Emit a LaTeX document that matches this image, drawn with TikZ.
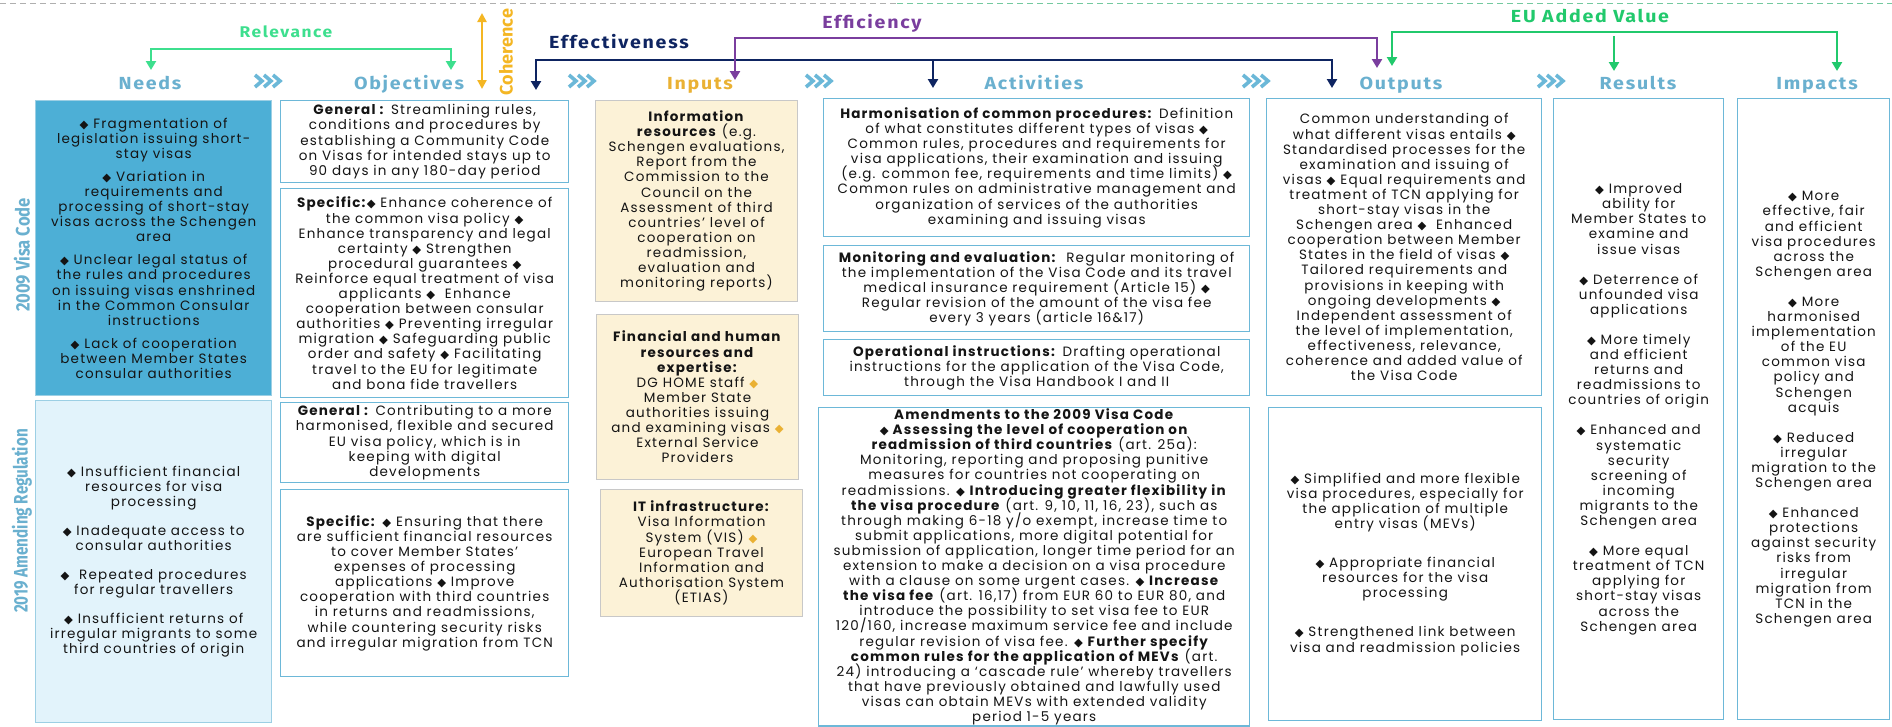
\documentclass[tikz,border=0pt]{standalone}
\usepackage{fontspec}
\setmainfont{Poppins}[LetterSpace=9]
\newfontfamily\hdrfont{Fira Sans}[FakeStretch=1.12, LetterSpace=10]
\newfontfamily\cohfont{Fira Sans}
\newfontfamily\vfont{Fira Sans}[FakeStretch=0.78]
\newfontfamily\vfontb{Fira Sans}[FakeStretch=0.85]
\newfontfamily\djv{DejaVu Sans}
\usetikzlibrary{arrows.meta}
\definecolor{hblue}{HTML}{6AB0CF}
\definecolor{bordblue}{HTML}{6DB8D8}
\definecolor{needdark}{HTML}{4DAFD6}
\definecolor{needbord}{HTML}{9CCFE4}
\definecolor{needlight}{HTML}{E2F3FB}
\definecolor{inpfill}{HTML}{FCF2D7}
\definecolor{inpbord}{HTML}{C8C8C8}
\definecolor{gold}{HTML}{EAB133}
\definecolor{cohcol}{HTML}{F4B623}
\definecolor{relgreen}{HTML}{3DDF8E}
\definecolor{eugreen}{HTML}{21C96C}
\definecolor{navy}{HTML}{0E2461}
\definecolor{purp}{HTML}{7A3E9E}
\definecolor{txt}{HTML}{141414}
\definecolor{chevcol}{HTML}{6BB8D8}
\definecolor{dashgray}{HTML}{AFAFAF}
\definecolor{dashgreen}{HTML}{74C9A0}
\newcommand\dmd{{\djv\fontsize{11.5}{11.5}\selectfont ◆}}
\newcommand\odmd{{\color{gold}\djv\fontsize{11.5}{11.5}\selectfont ◆}}
\newcommand\bdyfnt{\fontsize{13.5}{15.1}\selectfont\lineskiplimit=-100pt\lineskip=0pt}
\tikzset{btip/.tip={Triangle[width=10pt,length=9pt]},
  ctip/.tip={Triangle[width=9pt,length=9pt]}}
\begin{document}
\begin{tikzpicture}[x=1pt,y=-1pt,
  hdr/.style={font=\hdrfont\bfseries\fontsize{17.5}{17.5}\selectfont, text=hblue, inner sep=0pt, anchor=base},
  crit/.style={font=\hdrfont\bfseries\fontsize{17.5}{17.5}\selectfont, inner sep=0pt},
  vlab/.style={font=\vfont\bfseries\fontsize{19.5}{19.5}\selectfont, text=hblue, inner sep=0pt, rotate=90},
  box/.style={draw=bordblue, line width=1.4pt, fill=white, inner sep=1pt, align=center, anchor=north west, text=txt, font=\bdyfnt},
  inbox/.style={box, draw=inpbord, fill=inpfill, line width=1pt},
  ndark/.style={box, draw=needbord, fill=needdark},
  nlight/.style={box, draw=needbord, fill=needlight},
  brk/.style={line width=2.6pt, line join=miter},
  chevst/.style={draw=chevcol, line width=3.6pt, line join=miter},
  chevs/.pic={\foreach \dx in {-9,0,9} {\draw[chevst] (\dx-4,-6) -- (\dx+3,0) -- (\dx-4,6);}}
]
\useasboundingbox (0,0) rectangle (1892,726);
\fill[white] (0,0) rectangle (1892,726);
% top dashed line
\draw[dashgray, line width=1pt, dash pattern=on 6pt off 4pt] (0,3) -- (897,3);
\draw[dashgreen, line width=1pt, dash pattern=on 6pt off 4pt] (897,3) -- (1892,3);

% headers
\node[hdr] (hNeeds) at (150,89) {Needs};
\node[hdr] (hObj) at (409,89) {Objectives};
\node[hdr, text=gold] (hInp) at (700,89) {Inputs};
\node[hdr] (hAct) at (1034,89) {Activities};
\node[hdr] (hOut) at (1401,89) {Outputs};
\node[hdr] (hRes) at (1638,89) {Results};
\node[hdr] (hImp) at (1817,89) {Impacts};
\pic at (268,81) {chevs};
\pic at (582,81) {chevs};
\pic at (819,81) {chevs};
\pic at (1256,81) {chevs};
\pic at (1551,81) {chevs};

% criteria labels
\node[crit, text=relgreen, font=\hdrfont\bfseries\fontsize{15.5}{15.5}\selectfont] (lRel) at (286,32) {Relevance};
\node[crit, text=navy] (lEff) at (619,42) {Effectiveness};
\node[crit, text=purp] (lEffi) at (872,23) {Efficiency};
\node[crit, text=eugreen] (lEU) at (1590,16) {EU Added Value};
\node[crit, text=cohcol, rotate=90, font=\cohfont\bfseries\fontsize{18}{18}\selectfont] (lCoh) at (506,52) {Coherence};

% Relevance bracket
\coordinate (relA) at (151,70); \coordinate (relB) at (151,49);
\coordinate (relC) at (451,49); \coordinate (relD) at (451,70);
\draw[brk, relgreen, {btip}-{btip}] (relA) -- (relB) -- (relC) -- (relD);
% Coherence
\coordinate (cohT) at (482,13); \coordinate (cohB) at (482,89);
\draw[cohcol, line width=2.4pt, {ctip}-{ctip}] (cohT) -- (cohB);
% Effectiveness bracket
\coordinate (effA) at (536,90); \coordinate (effB) at (536,60);
\coordinate (effC) at (1332,60); \coordinate (effD) at (1332,88);
\coordinate (effM) at (933,60); \coordinate (effMt) at (933,88);
\draw[brk, navy, {btip}-{btip}] (effA) -- (effB) -- (effC) -- (effD);
\draw[brk, navy, -{btip}] (effM) -- (effMt);
% Efficiency bracket
\coordinate (efiA) at (735,80); \coordinate (efiB) at (735,38);
\coordinate (efiC) at (1377,38); \coordinate (efiD) at (1377,68);
\draw[brk, purp, {btip}-{btip}] (efiA) -- (efiB) -- (efiC) -- (efiD);
% EU added value bracket
\coordinate (euA) at (1392,66); \coordinate (euB) at (1392,32);
\coordinate (euC) at (1837,32); \coordinate (euD) at (1837,71);
\coordinate (euM) at (1614,36); \coordinate (euMt) at (1614,71);
\draw[brk, eugreen, {btip}-{btip}] (euA) -- (euB) -- (euC) -- (euD);
\draw[brk, eugreen, -{btip}] (euM) -- (euMt);

% vertical labels
\node[vlab, font=\vfontb\bfseries\fontsize{19.5}{19.5}\selectfont] (v2009) at (22,255) {2009 Visa Code};
\node[vlab] (v2019) at (22,521) {2019 Amending Regulation};

% Needs
\node[ndark, minimum width=236pt, minimum height=295pt] (nd) at (35,100) {%
\dmd{} Fragmentation of\\ legislation issuing short-\\ stay visas\\[8pt]
\dmd{} Variation in\\ requirements and\\ processing of short-stay\\ visas across the Schengen\\ area\\[8pt]
\dmd{} Unclear legal status of\\ the rules and procedures\\ on issuing visas enshrined\\ in the Common Consular\\ instructions\\[8pt]
\dmd{} Lack of cooperation\\ between Member States\\ consular authorities};
\node[nlight, minimum width=236pt, minimum height=322pt] (nl) at (35,400) {%
\dmd{} Insufficient financial\\ resources for visa\\ processing\\[14pt]
\dmd{} Inadequate access to\\ consular authorities\\[14pt]
\dmd{}\ \ Repeated procedures\\ for regular travellers\\[14pt]
\dmd{} Insufficient returns of\\ irregular migrants to some\\ third countries of origin};

% Objectives
\node[box, minimum width=288pt, minimum height=82pt] (o1) at (280,100) {%
\textbf{General :} Streamlining rules,\\ conditions and procedures by\\ establishing a Community Code\\ on Visas for intended stays up to\\ 90 days in any 180-day period};
\node[box, minimum width=288pt, minimum height=209pt] (o2) at (280,188) {%
\textbf{Specific:}\dmd{} Enhance coherence of\\ the common visa policy \dmd\\ Enhance transparency and legal\\ certainty \dmd{} Strengthen\\ procedural guarantees \dmd\\ Reinforce equal treatment of visa\\ applicants \dmd{}\ \ Enhance\\ cooperation between consular\\ authorities \dmd{} Preventing irregular\\ migration \dmd{} Safeguarding public\\ order and safety \dmd{} Facilitating\\ travel to the EU for legitimate\\ and bona fide travellers};
\node[box, minimum width=288pt, minimum height=80pt] (o3) at (280,402) {%
\textbf{General :} Contributing to a more\\ harmonised, flexible and secured\\ EU visa policy, which is in\\ keeping with digital\\ developments};
\node[box, minimum width=288pt, minimum height=187pt] (o4) at (280,489) {%
\textbf{Specific:} \dmd{} Ensuring that there\\ are sufficient financial resources\\ to cover Member States’\\ expenses of processing\\ applications \dmd{} Improve\\ cooperation with third countries\\ in returns and readmissions,\\ while countering security risks\\ and irregular migration from TCN};

% Inputs
\node[inbox, minimum width=202pt, minimum height=201pt] (i1) at (595,100) {%
\textbf{Information}\\ \textbf{resources} (e.g.\\ Schengen evaluations,\\ Report from the\\ Commission to the\\ Council on the\\ Assessment of third\\ countries’ level of\\ cooperation on\\ readmission,\\ evaluation and\\ monitoring reports)};
\node[inbox, minimum width=202pt, minimum height=165pt] (i2) at (596,314) {%
\textbf{Financial and human}\\ \textbf{resources and}\\ \textbf{expertise:}\\ DG HOME staff \odmd\\ Member State\\ authorities issuing\\ and examining visas \odmd\\ External Service\\ Providers};
\node[inbox, minimum width=202pt, minimum height=127pt] (i3) at (600,489) {%
\textbf{IT infrastructure:}\\ Visa Information\\ System (VIS) \odmd\\ European Travel\\ Information and\\ Authorisation System\\ (ETIAS)};

% Activities
\node[box, minimum width=426pt, minimum height=138pt] (a1) at (823,98) {%
\textbf{Harmonisation of common procedures:} Definition\\ of what constitutes different types of visas \dmd\\ Common rules, procedures and requirements for\\ visa applications, their examination and issuing\\ (e.g. common fee, requirements and time limits) \dmd\\ Common rules on administrative management and\\ organization of services of the authorities\\ examining and issuing visas};
\node[box, minimum width=426pt, minimum height=86pt] (a2) at (823,245) {%
\textbf{Monitoring and evaluation:}\ \ Regular monitoring of\\ the implementation of the Visa Code and its travel\\ medical insurance requirement (Article 15) \dmd\\ Regular revision of the amount of the visa fee\\ every 3 years (article 16\&17)};
\node[box, minimum width=426pt, minimum height=56pt] (a3) at (823,339) {%
\textbf{Operational instructions:} Drafting operational\\ instructions for the application of the Visa Code,\\ through the Visa Handbook I and II};
\node[box, minimum width=431pt, minimum height=318pt] (a4) at (818,407) {%
\textbf{Amendments to the 2009 Visa Code}\\
\textbf{\dmd{} Assessing the level of cooperation on}\\
\textbf{readmission of third countries} (art. 25a):\\
Monitoring, reporting and proposing punitive\\
measures for countries not cooperating on\\
readmissions. \dmd{} \textbf{Introducing greater flexibility in}\\
\textbf{the visa procedure} (art. 9, 10, 11, 16, 23), such as\\
through making 6-18 y/o exempt, increase time to\\
submit applications, more digital potential for\\
submission of application, longer time period for an\\
extension to make a decision on a visa procedure\\
with a clause on some urgent cases. \dmd{} \textbf{Increase}\\
\textbf{the visa fee} (art. 16,17) from EUR 60 to EUR 80, and\\
introduce the possibility to set visa fee to EUR\\
120/160, increase maximum service fee and include\\
regular revision of visa fee. \dmd{} \textbf{Further specify}\\
\textbf{common rules for the application of MEVs} (art.\\
24) introducing a ‘cascade rule’ whereby travellers\\
that have previously obtained and lawfully used\\
visas can obtain MEVs with extended validity\\
period 1-5 years};

% Outputs
\node[box, minimum width=275pt, minimum height=297pt] (u1) at (1266,98) {%
Common understanding of\\ what different visas entails \dmd\\ Standardised processes for the\\ examination and issuing of\\ visas \dmd{} Equal requirements and\\ treatment of TCN applying for\\ short-stay visas in the\\ Schengen area \dmd{}\ \ Enhanced\\ cooperation between Member\\ States in the field of visas \dmd\\ Tailored requirements and\\ provisions in keeping with\\ ongoing developments \dmd\\ Independent assessment of\\ the level of implementation,\\ effectiveness, relevance,\\ coherence and added value of\\ the Visa Code};
\node[box, minimum width=273pt, minimum height=313pt] (u2) at (1268,407) {%
\dmd{} Simplified and more flexible\\ visa procedures, especially for\\ the application of multiple\\ entry visas (MEVs)\\[24pt]
\dmd{} Appropriate financial\\ resources for the visa\\ processing\\[24pt]
\dmd{} Strengthened link between\\ visa and readmission policies};

% Results
\node[box, minimum width=170pt, minimum height=621pt] (r1) at (1553,98) {%
\dmd{} Improved\\ ability for\\ Member States to\\ examine and\\ issue visas\\[15pt]
\dmd{} Deterrence of\\ unfounded visa\\ applications\\[15pt]
\dmd{} More timely\\ and efficient\\ returns and\\ readmissions to\\ countries of origin\\[15pt]
\dmd{} Enhanced and\\ systematic\\ security\\ screening of\\ incoming\\ migrants to the\\ Schengen area\\[15pt]
\dmd{} More equal\\ treatment of TCN\\ applying for\\ short-stay visas\\ across the\\ Schengen area};

% Impacts
\node[box, minimum width=152pt, minimum height=621pt] (m1) at (1737,98) {%
\dmd{} More\\ effective, fair\\ and efficient\\ visa procedures\\ across the\\ Schengen area\\[15pt]
\dmd{} More\\ harmonised\\ implementation\\ of the EU\\ common visa\\ policy and\\ Schengen\\ acquis\\[15pt]
\dmd{} Reduced\\ irregular\\ migration to the\\ Schengen area\\[15pt]
\dmd{} Enhanced\\ protections\\ against security\\ risks from\\ irregular\\ migration from\\ TCN in the\\ Schengen area};
\end{tikzpicture}
\end{document}
